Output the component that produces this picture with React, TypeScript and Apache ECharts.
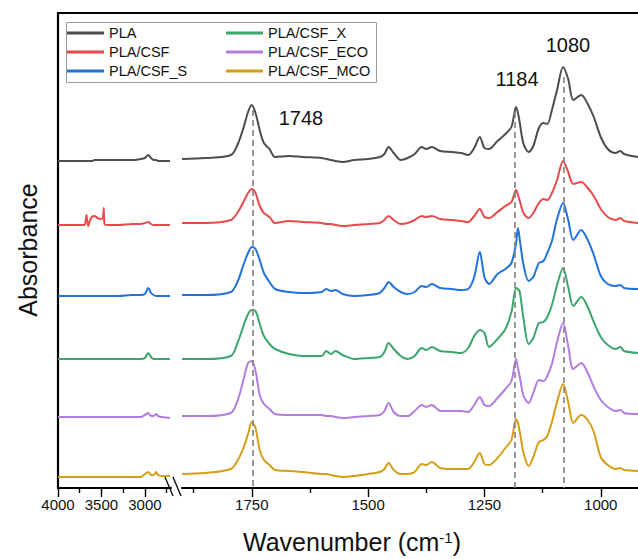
import React, { useEffect, useRef } from "react";
import * as echarts from "echarts";

const seriesNames = ["PLA", "PLA/CSF", "PLA/CSF_S", "PLA/CSF_X", "PLA/CSF_ECO", "PLA/CSF_MCO"];
const seriesColors = ["#4d4d4d", "#e84a4c", "#2372dc", "#3ba66b", "#b27de0", "#d49f17"];

// wavenumbers (cm-1), left segment of the broken axis
const leftWn = [4000, 3850, 3700, 3680, 3672, 3662, 3650, 3635, 3610, 3580, 3545, 3515, 3485, 3474, 3465, 3440, 3300, 3150, 3050, 3000, 2962, 2930, 2900, 2870, 2850, 2800, 2712];
// wavenumbers (cm-1), right segment
const rightWn = [1900, 1850, 1795, 1780, 1768, 1758, 1750, 1742, 1733, 1724, 1712, 1700, 1670, 1640, 1600, 1590, 1580, 1570, 1555, 1530, 1500, 1475, 1465, 1456, 1445, 1430, 1415, 1400, 1385, 1375, 1363, 1345, 1320, 1300, 1285, 1272, 1260, 1250, 1240, 1222, 1205, 1192, 1182, 1178, 1174, 1166, 1155, 1145, 1133, 1123, 1115, 1105, 1094, 1081, 1070, 1059, 1042, 1028, 1015, 1000, 985, 968, 958, 950, 920];

// absorbance (offset-stacked, a.u.)
const plaLeft = [3.27, 3.27, 3.27, 3.27, 3.27, 3.27, 3.27, 3.27, 3.27, 3.28, 3.28, 3.28, 3.28, 3.28, 3.28, 3.28, 3.28, 3.28, 3.29, 3.30, 3.33, 3.30, 3.28, 3.28, 3.27, 3.27, 3.27];
const plaRight = [3.29, 3.30, 3.33, 3.44, 3.60, 3.76, 3.83, 3.75, 3.58, 3.45, 3.39, 3.31, 3.32, 3.31, 3.30, 3.29, 3.28, 3.27, 3.26, 3.28, 3.29, 3.31, 3.34, 3.41, 3.35, 3.28, 3.30, 3.34, 3.41, 3.39, 3.41, 3.37, 3.36, 3.35, 3.33, 3.40, 3.51, 3.40, 3.39, 3.47, 3.54, 3.61, 3.81, 3.75, 3.65, 3.44, 3.36, 3.42, 3.60, 3.65, 3.64, 3.78, 3.98, 4.21, 4.09, 3.88, 3.93, 3.84, 3.71, 3.51, 3.39, 3.35, 3.37, 3.34, 3.31];

const csfLeft = [2.63, 2.63, 2.63, 2.68, 2.73, 2.66, 2.62, 2.67, 2.71, 2.72, 2.70, 2.69, 2.70, 2.80, 2.64, 2.63, 2.63, 2.64, 2.64, 2.65, 2.66, 2.64, 2.63, 2.63, 2.63, 2.63, 2.63];
const csfRight = [2.65, 2.65, 2.68, 2.76, 2.86, 2.95, 2.99, 2.95, 2.82, 2.75, 2.71, 2.65, 2.67, 2.66, 2.65, 2.64, 2.64, 2.63, 2.62, 2.63, 2.64, 2.65, 2.68, 2.72, 2.68, 2.64, 2.65, 2.68, 2.72, 2.71, 2.72, 2.69, 2.68, 2.67, 2.66, 2.72, 2.79, 2.71, 2.70, 2.76, 2.82, 2.86, 2.98, 2.93, 2.87, 2.75, 2.70, 2.75, 2.85, 2.89, 2.88, 2.95, 3.08, 3.27, 3.16, 3.04, 3.06, 3.00, 2.92, 2.79, 2.71, 2.68, 2.70, 2.67, 2.65];

const csfSLeft = [1.92, 1.92, 1.92, 1.92, 1.92, 1.92, 1.92, 1.92, 1.92, 1.92, 1.92, 1.92, 1.92, 1.92, 1.92, 1.92, 1.92, 1.93, 1.93, 1.94, 2.00, 1.95, 1.93, 1.92, 1.92, 1.92, 1.92];
const csfSRight = [1.93, 1.93, 1.96, 2.07, 2.23, 2.35, 2.41, 2.39, 2.28, 2.15, 2.06, 1.99, 1.96, 1.95, 1.96, 1.99, 1.97, 1.98, 1.94, 1.92, 1.93, 1.95, 2.00, 2.06, 2.01, 1.96, 1.94, 1.96, 2.02, 2.01, 2.04, 2.00, 1.99, 1.98, 1.99, 2.11, 2.36, 2.11, 2.04, 2.14, 2.19, 2.25, 2.45, 2.60, 2.48, 2.23, 2.07, 2.11, 2.25, 2.27, 2.35, 2.47, 2.69, 2.85, 2.68, 2.48, 2.58, 2.48, 2.33, 2.12, 2.04, 2.02, 2.03, 2.00, 1.99];

const csfXLeft = [1.29, 1.29, 1.29, 1.29, 1.29, 1.29, 1.29, 1.29, 1.29, 1.29, 1.29, 1.29, 1.29, 1.29, 1.29, 1.29, 1.29, 1.29, 1.29, 1.30, 1.35, 1.31, 1.29, 1.29, 1.29, 1.29, 1.29];
const csfXRight = [1.29, 1.29, 1.32, 1.46, 1.62, 1.74, 1.78, 1.77, 1.64, 1.52, 1.44, 1.39, 1.34, 1.32, 1.32, 1.37, 1.34, 1.37, 1.33, 1.29, 1.30, 1.31, 1.36, 1.45, 1.39, 1.32, 1.29, 1.32, 1.40, 1.38, 1.41, 1.37, 1.36, 1.35, 1.40, 1.52, 1.58, 1.55, 1.41, 1.49, 1.59, 1.76, 2.00, 1.99, 1.96, 1.69, 1.44, 1.50, 1.65, 1.66, 1.71, 1.83, 2.03, 2.20, 2.01, 1.82, 1.91, 1.81, 1.66, 1.51, 1.43, 1.39, 1.41, 1.37, 1.35];

const csfEcoLeft = [0.71, 0.71, 0.71, 0.71, 0.71, 0.71, 0.71, 0.71, 0.71, 0.71, 0.71, 0.71, 0.71, 0.71, 0.71, 0.71, 0.71, 0.71, 0.71, 0.73, 0.75, 0.72, 0.72, 0.74, 0.72, 0.71, 0.70];
const csfEcoRight = [0.72, 0.72, 0.75, 0.88, 1.08, 1.25, 1.27, 1.17, 0.93, 0.84, 0.79, 0.74, 0.73, 0.73, 0.73, 0.72, 0.72, 0.71, 0.70, 0.71, 0.72, 0.73, 0.77, 0.85, 0.76, 0.72, 0.72, 0.77, 0.83, 0.81, 0.83, 0.77, 0.77, 0.77, 0.76, 0.83, 0.91, 0.83, 0.82, 0.90, 0.99, 1.07, 1.29, 1.20, 1.11, 0.92, 0.85, 0.95, 1.08, 1.07, 1.12, 1.24, 1.46, 1.65, 1.42, 1.19, 1.25, 1.15, 1.01, 0.88, 0.81, 0.77, 0.78, 0.75, 0.74];

const csfMcoLeft = [0.11, 0.11, 0.11, 0.11, 0.11, 0.11, 0.11, 0.11, 0.11, 0.11, 0.11, 0.11, 0.11, 0.11, 0.11, 0.11, 0.11, 0.11, 0.11, 0.14, 0.16, 0.13, 0.13, 0.16, 0.13, 0.12, 0.12];
const csfMcoRight = [0.14, 0.15, 0.19, 0.28, 0.40, 0.54, 0.66, 0.60, 0.38, 0.28, 0.23, 0.18, 0.17, 0.16, 0.14, 0.14, 0.13, 0.12, 0.11, 0.12, 0.14, 0.16, 0.19, 0.25, 0.18, 0.14, 0.14, 0.16, 0.24, 0.23, 0.26, 0.20, 0.19, 0.19, 0.19, 0.26, 0.35, 0.24, 0.23, 0.30, 0.40, 0.48, 0.69, 0.65, 0.56, 0.35, 0.22, 0.31, 0.46, 0.48, 0.52, 0.66, 0.86, 1.04, 0.86, 0.65, 0.73, 0.68, 0.56, 0.31, 0.23, 0.19, 0.20, 0.18, 0.17];

const leftValues = [plaLeft, csfLeft, csfSLeft, csfXLeft, csfEcoLeft, csfMcoLeft];
const rightValues = [plaRight, csfRight, csfSRight, csfXRight, csfEcoRight, csfMcoRight];

// tick labels / tick positions
const majorLeft = [4000, 3500, 3000];
const minorLeft = [3750, 3250, 2750];
const majorRight = [1750, 1500, 1250, 1000];
const minorRight = [1875, 1625, 1375, 1125];

// marked peaks
const peakMarks = [1748, 1184, 1080];
const peakLineTops = [3.78, 3.76, 4.11];
const peakLabels = ["1748", "1184", "1080"];

const FONT = "'Liberation Sans', Arial, Helvetica, sans-serif";

export default function App() {
  const ref = useRef<HTMLDivElement>(null);

  useEffect(() => {
    if (!ref.current) return;
    const chart = echarts.init(ref.current, undefined, { renderer: "svg" });

    const tickStyle = { color: "#000", width: 1.4 };
    const lineAxis = { show: true, onZero: false, lineStyle: { color: "#000", width: 2 } };
    const hiddenLine = { show: true, onZero: false, lineStyle: { color: "rgba(0,0,0,0)", width: 0 } };
    const plainNum = (v: number) => String(v);

    const series: any[] = [];
    seriesNames.forEach((name, i) => {
      const common = {
        name,
        type: "line",
        showSymbol: false,
        symbol: "none",
        smooth: 0.3,
        color: seriesColors[i],
        lineStyle: { color: seriesColors[i], width: 2 },
        emphasis: { disabled: true },
        z: 3,
      };
      series.push({
        ...common,
        xAxisIndex: 0,
        yAxisIndex: 0,
        data: leftWn.map((w, k) => [w, leftValues[i][k]]),
      });
      const right: any = {
        ...common,
        xAxisIndex: 1,
        yAxisIndex: 1,
        data: rightWn.map((w, k) => [w, rightValues[i][k]]),
      };
      if (i === 0) {
        right.markLine = {
          silent: true,
          symbol: ["none", "none"],
          label: { show: false },
          lineStyle: { color: "#808080", width: 1.6, type: [6, 4] },
          emphasis: { disabled: true },
          data: peakMarks.map((w, k) => [
            { coord: [w, peakLineTops[k]] },
            { coord: [w, 0] },
          ]),
        };
      }
      series.push(right);
    });

    const peakTextPos = [
      [301, 118],
      [517, 79],
      [568, 45],
    ];

    const labelStyle = { fontSize: 15, color: "#111", margin: 9, fontFamily: FONT, formatter: plainNum };

    const option: any = {
      animation: false,
      grid: [
        { left: 58, top: 13, width: 113, height: 475 },
        { left: 182, top: 13, right: 0, height: 475 },
      ],
      xAxis: [
        {
          gridIndex: 0,
          type: "value",
          position: "bottom",
          min: 2700,
          max: 4000,
          inverse: true,
          axisLine: lineAxis,
          axisTick: { show: true, customValues: majorLeft, length: 9, lineStyle: tickStyle },
          axisLabel: { show: true, customValues: majorLeft, ...labelStyle },
          splitLine: { show: false },
        },
        {
          gridIndex: 1,
          type: "value",
          position: "bottom",
          min: 920,
          max: 1900,
          inverse: true,
          axisLine: lineAxis,
          axisTick: { show: true, customValues: majorRight, length: 9, lineStyle: tickStyle },
          axisLabel: { show: true, customValues: majorRight, ...labelStyle },
          splitLine: { show: false },
        },
        {
          gridIndex: 0,
          type: "value",
          position: "bottom",
          offset: 0,
          min: 2700,
          max: 4000,
          inverse: true,
          axisLine: hiddenLine,
          axisTick: { show: true, customValues: minorLeft, length: 5, lineStyle: tickStyle },
          axisLabel: { show: false },
          splitLine: { show: false },
        },
        {
          gridIndex: 1,
          type: "value",
          position: "bottom",
          offset: 0,
          min: 920,
          max: 1900,
          inverse: true,
          axisLine: hiddenLine,
          axisTick: { show: true, customValues: minorRight, length: 5, lineStyle: tickStyle },
          axisLabel: { show: false },
          splitLine: { show: false },
        },
      ],
      yAxis: [
        {
          gridIndex: 0,
          type: "value",
          min: 0,
          max: 4.75,
          axisLine: { show: true, lineStyle: { color: "#000", width: 2.2 } },
          axisTick: { show: false },
          axisLabel: { show: false },
          splitLine: { show: false },
        },
        { gridIndex: 1, type: "value", min: 0, max: 4.75, show: false, splitLine: { show: false } },
      ],
      legend: [
        {
          data: seriesNames.slice(0, 3),
          orient: "vertical",
          left: 67,
          top: 25,
          padding: 0,
          itemWidth: 37,
          itemHeight: 3,
          itemGap: 3,
          icon: "rect",
          selectedMode: false,
          textStyle: { fontSize: 14.5, lineHeight: 16, color: "#111", fontFamily: FONT },
        },
        {
          data: seriesNames.slice(3),
          orient: "vertical",
          left: 226,
          top: 25,
          padding: 0,
          itemWidth: 37,
          itemHeight: 3,
          itemGap: 3,
          icon: "rect",
          selectedMode: false,
          textStyle: { fontSize: 14.5, lineHeight: 16, color: "#111", fontFamily: FONT },
        },
      ],
      graphic: [
        { type: "line", shape: { x1: 57, y1: 13, x2: 638, y2: 13 }, style: { stroke: "#000", lineWidth: 2 }, silent: true },
        { type: "line", shape: { x1: 165, y1: 477, x2: 173, y2: 496 }, style: { stroke: "#000", lineWidth: 1.3 }, silent: true },
        { type: "line", shape: { x1: 173, y1: 477, x2: 181, y2: 496 }, style: { stroke: "#000", lineWidth: 1.3 }, silent: true },
        { type: "rect", shape: { x: 66.5, y: 22.5, width: 310, height: 60 }, style: { fill: "none", stroke: "#9a9a9a", lineWidth: 1 }, silent: true },
        ...peakLabels.map((t, k) => ({
          type: "text",
          x: peakTextPos[k][0],
          y: peakTextPos[k][1],
          silent: true,
          style: {
            text: t,
            fontSize: 20,
            fontFamily: FONT,
            fill: "#111",
            align: "center",
            verticalAlign: "middle",
            textAlign: "center",
            textVerticalAlign: "middle",
          },
        })),
        {
          type: "text",
          x: 28,
          y: 250,
          rotation: Math.PI / 2,
          silent: true,
          style: {
            text: "Absorbance",
            fontSize: 25,
            fontFamily: FONT,
            fill: "#111",
            align: "center",
            verticalAlign: "middle",
            textAlign: "center",
            textVerticalAlign: "middle",
          },
        },
        {
          type: "text",
          x: 352,
          y: 542,
          silent: true,
          style: {
            text: "Wavenumber (cm{sup|-1})",
            fontSize: 25,
            fontFamily: FONT,
            fill: "#111",
            align: "center",
            verticalAlign: "middle",
            textAlign: "center",
            textVerticalAlign: "middle",
            rich: {
              sup: { fontSize: 15, fontFamily: FONT, fill: "#111", verticalAlign: "top", lineHeight: 14 },
            },
          },
        },
      ],
      series,
    };

    chart.setOption(option);
    return () => chart.dispose();
  }, []);

  return (
    <div
      ref={ref}
      style={{ position: "fixed", left: 0, top: 0, width: 638, height: 559, background: "#fff" }}
    />
  );
}
